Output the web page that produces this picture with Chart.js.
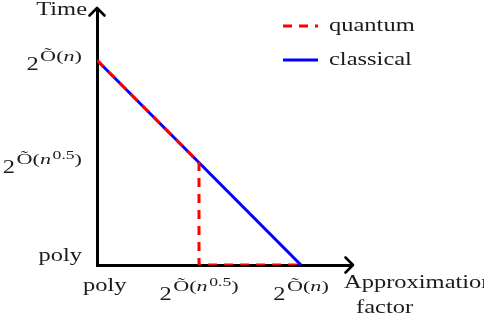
<!DOCTYPE html>
<html>
<head>
<meta charset="utf-8">
<script src="https://cdn.jsdelivr.net/npm/chart.js@4"></script>
<style>
  body { margin: 0; background: #fff; }
</style>
</head>
<body>
<canvas id="complexityChart" width="484" height="323"></canvas>
<script>
// values of the sketch
const seriesLabels = ['quantum', 'classical'];
const quantumX = [0, 1, 1, 2];
const quantumY = [2, 1, 0, 0];
const classicalX = [0, 2];
const classicalY = [2, 0];
const tickValues = [0, 1, 2];
const xTickLabels = ['poly', '2^{Õ(n^{0.5})}', '2^{Õ(n)}'];
const yTickLabels = ['poly', '2^{Õ(n^{0.5})}', '2^{Õ(n)}'];
const yAxisTitle = 'Time';
const xAxisTitle = ['Approximation', 'factor'];

const FONT = 'Liberation Serif';
const BASE = 18;
const INK = '#1c1c1c';

// tiny tex-ish parser: only handles ^{...}
function parseTex(s, lvl, out) {
    let i = 0;
    while (i < s.length) {
        if (s[i] === '^') {
            let depth = 0, j = i + 1;
            for (; j < s.length; j++) {
                if (s[j] === '{') depth++;
                else if (s[j] === '}' && --depth === 0) break;
            }
            parseTex(s.slice(i + 2, j), lvl + 1, out);
            i = j + 1;
        } else {
            const it = lvl > 0 && /[a-z]/.test(s[i]);
            const last = out[out.length - 1];
            if (last && last.lvl === lvl && last.it === it) last.t += s[i];
            else out.push({ t: s[i], lvl, it });
            i++;
        }
    }
    return out;
}

// per script level: font size, raise, sideways stretch
const sizes = [BASE, BASE * 0.85, BASE * 0.7];
const raises = [0, 9, 14];
const stretch = [1.36, 1.45, 1.4];

function fontFor(seg) {
    return (seg.it ? 'italic ' : '') + sizes[seg.lvl] + 'px "' + FONT + '"';
}

function measureTex(ctx, str) {
    const segs = parseTex(str, 0, []);
    let w = 0, top = 0, bottom = 0, prev = 0;
    segs.forEach(seg => {
        ctx.font = fontFor(seg);
        const m = ctx.measureText(seg.t);
        seg.pad = seg.lvl > prev ? 1.5 : 0; // script space
        prev = seg.lvl;
        seg.w = m.width * stretch[seg.lvl];
        w += seg.pad + seg.w;
        top = Math.max(top, raises[seg.lvl] + m.actualBoundingBoxAscent);
        bottom = Math.max(bottom, m.actualBoundingBoxDescent - raises[seg.lvl]);
    });
    return { segs, w, top, bottom };
}

// draws with left edge x and baseline y
function drawTex(ctx, m, x, y) {
    let cx = x;
    m.segs.forEach(seg => {
        cx += seg.pad;
        ctx.save();
        ctx.font = fontFor(seg);
        ctx.fillStyle = INK;
        ctx.textBaseline = 'alphabetic';
        ctx.translate(cx, y - raises[seg.lvl]);
        ctx.scale(stretch[seg.lvl], 1);
        ctx.fillText(seg.t, 0, 0);
        ctx.restore();
        cx += seg.w;
    });
}

function chevron(ctx, x, y, dx, dy) {
    // tip at (x, y), pointing along (dx, dy)
    const s = 7.5;
    ctx.save();
    ctx.strokeStyle = '#000';
    ctx.lineWidth = 2.6;
    ctx.lineCap = 'round';
    ctx.beginPath();
    ctx.moveTo(x - dx * s - dy * s, y - dy * s - dx * s);
    ctx.lineTo(x, y);
    ctx.moveTo(x - dx * s + dy * s, y - dy * s + dx * s);
    ctx.lineTo(x, y);
    ctx.stroke();
    ctx.restore();
}

const sketchPlugin = {
    id: 'sketch',
    afterDraw(chart) {
        const ctx = chart.ctx;
        const area = chart.chartArea;
        const xs = chart.scales.x, ys = chart.scales.y;
        const axisY = ys.getPixelForValue(0);

        chevron(ctx, area.left, area.top - 1, 0, -1);
        chevron(ctx, area.right + 1, area.bottom, 1, 0);

        // y tick labels, kept above the x axis
        tickValues.forEach((v, i) => {
            const m = measureTex(ctx, yTickLabels[i]);
            const p = ys.getPixelForValue(v);
            let base = p + (m.top - m.bottom) / 2 - 1;
            if (base + m.bottom > axisY) base = axisY - m.bottom;
            drawTex(ctx, m, area.left - 15 - m.w, base);
        });

        // x tick labels, hung below the axis
        tickValues.forEach((v, i) => {
            const m = measureTex(ctx, xTickLabels[i]);
            const p = xs.getPixelForValue(v);
            const left = Math.max(p - m.w / 2, area.left - 14);
            drawTex(ctx, m, left, axisY + 13 + m.top);
        });

        // axis titles
        const t = measureTex(ctx, yAxisTitle);
        drawTex(ctx, t, area.left - 10 - t.w, area.top + 6);
        const a1 = measureTex(ctx, xAxisTitle[0]);
        drawTex(ctx, a1, area.right - 8, axisY + 23);
        const a2 = measureTex(ctx, xAxisTitle[1]);
        drawTex(ctx, a2, area.right + 4, axisY + 48);

        // legend
        const lx = 283, ly = 26, gap = 34;
        chart.data.datasets.forEach((ds, i) => {
            const y = ly + i * gap;
            ctx.save();
            ctx.strokeStyle = ds.borderColor;
            ctx.lineWidth = ds.borderWidth;
            ctx.setLineDash(ds.borderDash || []);
            ctx.beginPath();
            ctx.moveTo(lx, y);
            ctx.lineTo(lx + 35, y);
            ctx.stroke();
            ctx.restore();
            const m = measureTex(ctx, ds.label);
            drawTex(ctx, m, lx + 46, y + 5);
        });
    }
};

const ctx = document.getElementById('complexityChart').getContext('2d');
new Chart(ctx, {
    type: 'line',
    data: {
        datasets: [{
            label: seriesLabels[0],
            data: quantumX.map((x, i) => ({ x, y: quantumY[i] })),
            borderColor: '#ff0000',
            borderWidth: 3,
            borderDash: [9, 7],
            pointRadius: 0,
            fill: false,
            tension: 0
        }, {
            label: seriesLabels[1],
            data: classicalX.map((x, i) => ({ x, y: classicalY[i] })),
            borderColor: '#0000ff',
            borderWidth: 3,
            pointRadius: 0,
            fill: false,
            tension: 0
        }]
    },
    options: {
        responsive: false,
        animation: false,
        layout: { padding: { left: 89, right: 132, top: 9, bottom: 50 } },
        plugins: { legend: { display: false }, tooltip: { enabled: false } },
        scales: {
            x: {
                type: 'linear', min: 0, max: 2.5,
                grid: { display: false },
                ticks: { display: false },
                border: { display: true, color: '#000', width: 3 }
            },
            y: {
                type: 'linear', min: 0, max: 2.5,
                grid: { display: false },
                ticks: { display: false },
                border: { display: true, color: '#000', width: 3 }
            }
        }
    },
    plugins: [sketchPlugin]
});
</script>
</body>
</html>
